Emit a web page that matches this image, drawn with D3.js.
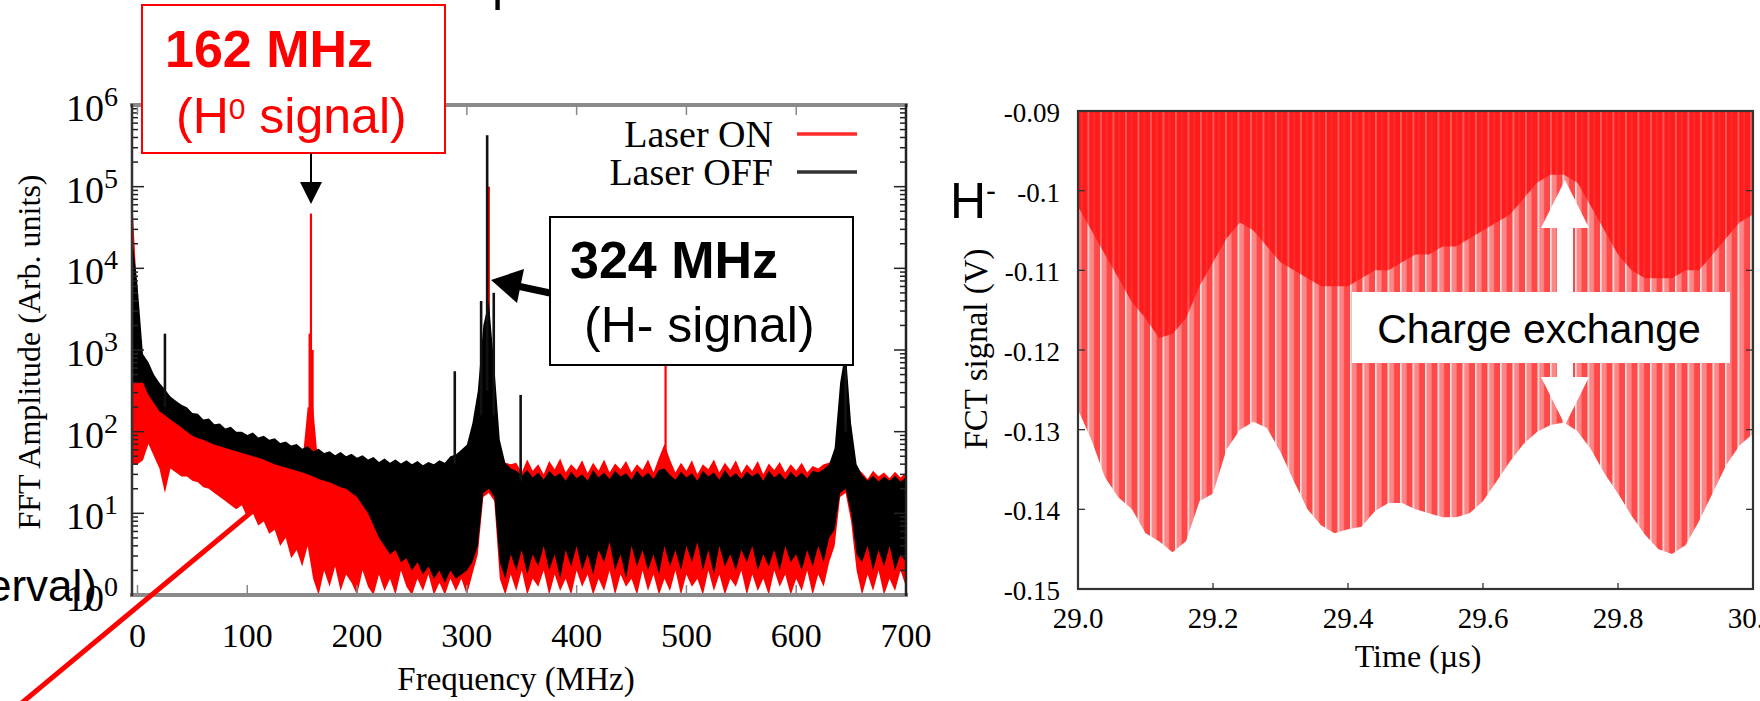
<!DOCTYPE html>
<html>
<head>
<meta charset="utf-8">
<script src="https://cdn.jsdelivr.net/npm/d3@7"></script>
<style>
  body { margin: 0; background: #fff; }
  svg { display: block; }
  text { white-space: pre; }
</style>
</head>
<body>
<svg id="chart" width="1760" height="701"></svg>
<script>
// ---------- left panel: FFT spectrum (values are log10 of the amplitude)
var bandFreq = [-5,0,5,10,15,20,25,30,35,40,45,50,55,60,65,70,75,80,85,90,95,100,105,110,115,120,125,130,135,140,
  145,150,155,160,165,170,175,180,185,190,195,200,205,210,215,220,225,230,235,240,245,250,255,260,265,270,275,280,285,290,
  295,300,305,310,315,320,325,330,335,340,345,350,355,360,365,370,375,380,385,390,395,400,405,410,415,420,425,430,435,440,
  445,450,455,460,465,470,475,480,485,490,495,500,505,510,515,520,525,530,535,540,545,550,555,560,565,570,575,580,585,590,
  595,600,605,610,615,620,625,630,635,640,645,650,655,660,665,670,675,680,685,690,695,700];

var offHi = [4.4,3.8,2.95,2.85,2.7,2.6,2.52,2.43,2.38,2.33,
  2.3,2.23,2.22,2.15,2.16,2.09,2.1,2.04,2.06,2.0,
  2.0,1.96,1.99,1.93,1.95,1.9,1.92,1.86,1.88,1.83,
  1.85,1.79,1.82,1.76,1.79,1.74,1.76,1.71,1.75,1.7,
  1.73,1.68,1.71,1.66,1.69,1.63,1.67,1.62,1.66,1.61,
  1.65,1.6,1.64,1.59,1.63,1.6,1.65,1.62,1.7,1.72,
  1.78,1.84,2.1,2.5,3.3,3.6,2.8,1.9,1.62,1.55,
  1.52,1.46,1.53,1.44,1.5,1.41,1.52,1.45,1.49,1.4,
  1.51,1.43,1.48,1.4,1.53,1.44,1.5,1.42,1.52,1.45,
  1.49,1.41,1.52,1.44,1.5,1.42,1.53,1.55,1.47,1.41,
  1.51,1.44,1.49,1.4,1.52,1.45,1.5,1.41,1.53,1.44,
  1.49,1.42,1.51,1.45,1.5,1.4,1.52,1.44,1.49,1.41,
  1.51,1.44,1.5,1.43,1.52,1.5,1.54,1.6,1.8,2.6,
  3.0,2.1,1.6,1.47,1.4,1.46,1.39,1.45,1.4,1.46,
  1.39,1.44];

var offLo = [2.6,2.6,2.6,2.45,2.35,2.25,2.2,2.15,2.1,2.05,
  2.0,1.95,1.92,1.9,1.87,1.84,1.82,1.8,1.78,1.76,
  1.74,1.72,1.7,1.68,1.66,1.63,1.6,1.58,1.56,1.54,
  1.52,1.5,1.48,1.45,1.42,1.4,1.38,1.35,1.32,1.3,
  1.25,1.2,1.1,1.0,0.85,0.7,0.6,0.5,0.55,0.4,
  0.45,0.3,0.4,0.25,0.35,0.2,0.3,0.15,0.3,0.2,
  0.25,0.3,0.4,0.6,1.25,1.3,1.2,0.4,0.2,0.5,
  0.3,0.55,0.25,0.5,0.35,0.6,0.3,0.5,0.2,0.55,
  0.35,0.6,0.3,0.5,0.25,0.55,0.4,0.65,0.3,0.5,
  0.2,0.6,0.35,0.55,0.3,0.5,0.25,0.6,0.35,0.55,
  0.3,0.6,0.4,0.65,0.3,0.55,0.25,0.6,0.35,0.5,
  0.3,0.55,0.4,0.6,0.3,0.5,0.35,0.55,0.3,0.6,
  0.4,0.5,0.3,0.55,0.35,0.6,0.4,0.7,0.8,1.25,
  1.3,1.0,0.5,0.4,0.6,0.3,0.55,0.35,0.6,0.3,
  0.5,0.4];

var onHi = [4.9,3.6,2.75,2.6,2.5,2.4,2.3,2.25,2.2,2.15,
  2.1,2.05,2.0,1.97,1.94,1.91,1.88,1.85,1.82,1.8,
  1.77,1.75,1.73,1.7,1.68,1.66,1.64,1.62,1.6,1.58,
  1.56,1.6,2.3,2.3,1.55,1.52,1.5,1.5,1.48,1.48,
  1.47,1.47,1.46,1.46,1.45,1.45,1.45,1.46,1.46,1.47,
  1.47,1.48,1.5,1.5,1.52,1.55,1.55,1.58,1.6,1.62,
  1.65,1.7,1.9,2.3,2.9,3.3,2.5,1.75,1.62,1.6,
  1.62,1.5,1.66,1.52,1.6,1.48,1.64,1.54,1.67,1.5,
  1.6,1.53,1.65,1.49,1.62,1.52,1.66,1.5,1.61,1.54,
  1.64,1.5,1.6,1.53,1.66,1.5,1.68,1.85,1.66,1.5,
  1.62,1.52,1.65,1.48,1.6,1.54,1.66,1.5,1.62,1.53,
  1.65,1.49,1.6,1.52,1.64,1.48,1.61,1.53,1.63,1.5,
  1.6,1.52,1.62,1.5,1.58,1.55,1.6,1.62,1.7,2.4,
  2.9,2.0,1.55,1.5,1.42,1.52,1.45,1.5,1.43,1.51,
  1.44,1.5];

var onLo = [1.6,1.6,1.65,1.85,1.7,1.55,1.25,1.55,1.5,1.45,
  1.45,1.4,1.38,1.32,1.3,1.25,1.2,1.15,1.1,1.05,
  1.1,0.95,1.0,0.85,0.9,0.75,0.8,0.6,0.7,0.45,
  0.55,0.35,0.6,0.2,0,0.3,0.1,0.35,0.05,0.25,
  0.15,0,0.3,0.1,0,0.25,0.05,0.2,0,0.3,
  0.1,0,0.2,0.05,0.25,0,0.15,0,0.2,0.05,
  0.2,0,0.25,0.5,1.2,1.25,1.15,0.2,0,0.25,
  0.05,0.3,0,0.2,0.1,0.3,0,0.25,0.05,0.2,
  0,0.3,0.1,0.25,0,0.2,0.05,0.3,0,0.25,
  0.1,0.2,0,0.3,0.05,0.25,0,0.2,0.05,0.3,
  0,0.25,0.1,0.2,0,0.3,0.05,0.25,0,0.2,
  0.1,0.3,0,0.25,0.05,0.2,0,0.3,0.1,0.25,
  0,0.2,0.05,0.3,0,0.25,0.1,0.4,0.6,1.2,
  1.25,0.9,0.3,0,0.25,0.05,0.3,0,0.2,0.05,
  0.3,0.1];

// narrow lines: [frequency MHz, log10 of the foot, log10 of the top]
var onSpikes = [[158,1.8,4.67],[156.8,1.8,3.2],[159.5,1.8,3.0],[320,2.0,5.0],[481,1.6,3.5],[645,2.0,3.2]];
var offSpikes = [[25,2.3,3.2],[289,1.6,2.74],[313,2.2,3.6],[318.5,2.5,5.63],[324.5,2.2,3.7],[349,1.4,2.45],[645,2.0,3.3]];

var freqTicks = [0,100,200,300,400,500,600,700];
var decadeTicks = [0,1,2,3,4,5,6];
var seriesNames = ["Laser ON", "Laser OFF"];

// ---------- right panel: FCT signal
var fctTime = [29.00,29.02,29.04,29.06,29.08,29.10,29.12,29.14,29.16,29.18,
  29.20,29.22,29.24,29.26,29.28,29.30,29.32,29.34,29.36,29.38,
  29.40,29.42,29.44,29.46,29.48,29.50,29.52,29.54,29.56,29.58,
  29.60,29.62,29.64,29.66,29.68,29.70,29.72,29.74,29.76,29.78,
  29.80,29.82,29.84,29.86,29.88,29.90,29.92,29.94,29.96,29.98,30.00];
// deepest excursion of the bunches (V)
var fctLower = [-0.1275,-0.1313,-0.1360,-0.1385,-0.1400,-0.1430,-0.1440,-0.1454,-0.1440,-0.1390,
  -0.1380,-0.1325,-0.1300,-0.1290,-0.1298,-0.1328,-0.1365,-0.1400,-0.1420,-0.1430,
  -0.1425,-0.1422,-0.1402,-0.1392,-0.1392,-0.1400,-0.1405,-0.1410,-0.1410,-0.1405,
  -0.1390,-0.1365,-0.1340,-0.1318,-0.1303,-0.1294,-0.1291,-0.1302,-0.1325,-0.1355,
  -0.1380,-0.1408,-0.1432,-0.1450,-0.1456,-0.1445,-0.1415,-0.1380,-0.1345,-0.1320,-0.1305];
// bottom of the dense (dark red) part
var fctInner = [-0.102,-0.105,-0.108,-0.111,-0.114,-0.116,-0.1185,-0.118,-0.116,-0.112,
  -0.109,-0.106,-0.104,-0.105,-0.107,-0.109,-0.110,-0.111,-0.112,-0.112,
  -0.112,-0.111,-0.110,-0.110,-0.109,-0.108,-0.108,-0.107,-0.107,-0.106,
  -0.105,-0.104,-0.103,-0.101,-0.099,-0.098,-0.098,-0.099,-0.102,-0.105,
  -0.108,-0.110,-0.111,-0.111,-0.111,-0.110,-0.110,-0.108,-0.106,-0.104,-0.103];

var timeTicks = [29.0,29.2,29.4,29.6,29.8,30.0];
var voltTicks = [-0.09,-0.10,-0.11,-0.12,-0.13,-0.14,-0.15];

var serif = "'Liberation Serif','Times New Roman',serif";
var sans = "'Liberation Sans',Arial,sans-serif";

var svg = d3.select("#chart");
var defs = svg.append("defs");

//---------------------------------------------------------------- left chart
var x = d3.scaleLinear().domain([-5, 700]).range([132, 906]);
var y = d3.scaleLog().domain([1, 1e6]).range([595, 105]);
var yl = function(v) { return y(Math.pow(10, v)); };

defs.append("clipPath").attr("id", "clipL").append("rect")
  .attr("x", 132).attr("y", 105).attr("width", 774).attr("height", 490);

var rows = bandFreq.map(function(f, i) {
  return { f: f, onLo: onLo[i], onHi: onHi[i], offLo: offLo[i], offHi: offHi[i] };
});

var band = function(lo, hi) {
  return d3.area()
    .x(function(d) { return x(d.f); })
    .y0(function(d) { return yl(d[lo]); })
    .y1(function(d) { return yl(d[hi]); });
};

var spikes = function(g, data, color, w) {
  g.selectAll(null).data(data).enter().append("line")
    .attr("x1", function(d) { return x(d[0]); }).attr("x2", function(d) { return x(d[0]); })
    .attr("y1", function(d) { return yl(d[1]); }).attr("y2", function(d) { return yl(d[2]); })
    .attr("stroke", color).attr("stroke-width", w);
};

var plotL = svg.append("g").attr("clip-path", "url(#clipL)");
plotL.append("path").datum(rows).attr("d", band("onLo", "onHi")).attr("fill", "#ff0000");
spikes(plotL, onSpikes, "#ff0000", 2.2);
plotL.append("path").datum(rows).attr("d", band("offLo", "offHi")).attr("fill", "#000");
spikes(plotL, offSpikes, "#111", 2.6);

// ticks (inward, on all four sides)
var logTicks = y.ticks();
var isDecade = function(v) { return Math.abs(Math.log10(v) - Math.round(Math.log10(v))) < 1e-6; };
var gAx = svg.append("g").attr("stroke", "#222").attr("stroke-width", 1.5);
gAx.selectAll(".ytl").data(logTicks).enter().append("line")
  .attr("x1", 132).attr("x2", function(d) { return 132 + (isDecade(d) ? 12 : 6); })
  .attr("y1", function(d) { return y(d); }).attr("y2", function(d) { return y(d); });
gAx.selectAll(".ytr").data(logTicks).enter().append("line")
  .attr("x1", 906).attr("x2", function(d) { return 906 - (isDecade(d) ? 12 : 6); })
  .attr("y1", function(d) { return y(d); }).attr("y2", function(d) { return y(d); });
gAx.selectAll(".xtb").data(freqTicks).enter().append("line")
  .attr("x1", function(d) { return x(d); }).attr("x2", function(d) { return x(d); })
  .attr("y1", 595).attr("y2", 585).attr("stroke", "#888");
gAx.selectAll(".xtt").data(freqTicks).enter().append("line")
  .attr("x1", function(d) { return x(d); }).attr("x2", function(d) { return x(d); })
  .attr("y1", 105).attr("y2", 115).attr("stroke", "#888");

// frame: grey top/bottom, dark sides
svg.append("line").attr("x1", 130).attr("x2", 908).attr("y1", 105).attr("y2", 105)
  .attr("stroke", "#8a8a8a").attr("stroke-width", 4);
svg.append("line").attr("x1", 130).attr("x2", 908).attr("y1", 595).attr("y2", 595)
  .attr("stroke", "#8a8a8a").attr("stroke-width", 4);
svg.append("line").attr("x1", 132).attr("x2", 132).attr("y1", 104).attr("y2", 596)
  .attr("stroke", "#333").attr("stroke-width", 2.5);
svg.append("line").attr("x1", 906).attr("x2", 906).attr("y1", 104).attr("y2", 596)
  .attr("stroke", "#222").attr("stroke-width", 2.5);

// tick labels
svg.selectAll(".xlab").data(freqTicks).enter().append("text")
  .attr("x", function(d) { return x(d); }).attr("y", 647)
  .attr("text-anchor", "middle").attr("font-family", serif).attr("font-size", 34)
  .text(function(d) { return d; });

var ylab = svg.selectAll(".ylab").data(decadeTicks).enter().append("text")
  .attr("x", 118).attr("y", function(d) { return yl(d) + 16; })
  .attr("text-anchor", "end").attr("font-family", serif).attr("font-size", 38);
ylab.append("tspan").text("10");
ylab.append("tspan").attr("dy", -15).attr("font-size", 28).text(function(d) { return d; });

svg.append("text").attr("x", 516).attr("y", 690).attr("text-anchor", "middle")
  .attr("font-family", serif).attr("font-size", 33).text("Frequency (MHz)");
svg.append("text").attr("transform", "translate(40,352) rotate(-90)").attr("text-anchor", "middle")
  .attr("font-family", serif).attr("font-size", 32).text("FFT Amplitude (Arb. units)");

// legend
var legColors = ["#ff2a2a", "#333"];
seriesNames.forEach(function(name, i) {
  var ly = 134 + i * 38;
  svg.append("text").attr("x", 773).attr("y", ly + 13).attr("text-anchor", "end")
    .attr("font-family", serif).attr("font-size", 38).text(name);
  svg.append("line").attr("x1", 797).attr("x2", 857).attr("y1", ly).attr("y2", ly)
    .attr("stroke", legColors[i]).attr("stroke-width", 3.5);
});

//---------------------------------------------------------------- right chart
var tx = d3.scaleLinear().domain([29, 30]).range([1078, 1753]);
var vy = d3.scaleLinear().domain([-0.15, -0.09]).range([589, 111]);

var pOut = defs.append("pattern").attr("id", "pinkLines").attr("patternUnits", "userSpaceOnUse")
  .attr("width", 12.5).attr("height", 10);
pOut.append("rect").attr("width", 12.5).attr("height", 10).attr("fill", "#e6e6e6");
pOut.append("rect").attr("x", 1.6).attr("width", 4.6).attr("height", 10).attr("fill", "#ff8686");
pOut.append("rect").attr("x", 6.2).attr("width", 6.3).attr("height", 10).attr("fill", "#ff4848");

var pIn = defs.append("pattern").attr("id", "redLines").attr("patternUnits", "userSpaceOnUse")
  .attr("width", 12.5).attr("height", 10);
pIn.append("rect").attr("width", 12.5).attr("height", 10).attr("fill", "#ff1c1c");
pIn.append("rect").attr("x", 0).attr("width", 1.8).attr("height", 10).attr("fill", "#ff5a5a");
pIn.append("rect").attr("x", 6.2).attr("width", 1).attr("height", 10).attr("fill", "#ff3a3a");

defs.append("clipPath").attr("id", "clipR").append("rect")
  .attr("x", 1078).attr("y", 111).attr("width", 675).attr("height", 478);

var fctRows = fctTime.map(function(t, i) { return { t: t, lower: fctLower[i], inner: fctInner[i] }; });

var plotR = svg.append("g").attr("clip-path", "url(#clipR)");
plotR.append("path").datum(fctRows)
  .attr("d", d3.area().x(function(d) { return tx(d.t); }).y0(vy(-0.09)).y1(function(d) { return vy(d.lower); }))
  .attr("fill", "url(#pinkLines)");
plotR.append("path").datum(fctRows)
  .attr("d", d3.area().x(function(d) { return tx(d.t); }).y0(vy(-0.09)).y1(function(d) { return vy(d.inner); }))
  .attr("fill", "url(#redLines)");

var gR = svg.append("g").attr("stroke", "#333").attr("stroke-width", 1.3);
gR.selectAll(".vtl").data(voltTicks).enter().append("line")
  .attr("x1", 1078).attr("x2", 1085).attr("y1", function(d) { return vy(d); }).attr("y2", function(d) { return vy(d); });
gR.selectAll(".vtr").data(voltTicks).enter().append("line")
  .attr("x1", 1753).attr("x2", 1746).attr("y1", function(d) { return vy(d); }).attr("y2", function(d) { return vy(d); });
gR.selectAll(".ttb").data(timeTicks).enter().append("line")
  .attr("x1", function(d) { return tx(d); }).attr("x2", function(d) { return tx(d); })
  .attr("y1", 589).attr("y2", 583);

svg.append("rect").attr("x", 1078).attr("y", 111).attr("width", 675).attr("height", 478)
  .attr("fill", "none").attr("stroke", "#333").attr("stroke-width", 2.2);

svg.selectAll(".vlab").data(voltTicks).enter().append("text")
  .attr("x", 1060).attr("y", function(d) { return vy(d) + 11; })
  .attr("text-anchor", "end").attr("font-family", serif).attr("font-size", 27)
  .text(function(d) { return String(+d.toFixed(2)); });
svg.selectAll(".tlab").data(timeTicks).enter().append("text")
  .attr("x", function(d) { return tx(d); }).attr("y", 628)
  .attr("text-anchor", "middle").attr("font-family", serif).attr("font-size", 29)
  .text(function(d) { return d.toFixed(1); });

svg.append("text").attr("x", 1418).attr("y", 667).attr("text-anchor", "middle")
  .attr("font-family", serif).attr("font-size", 32).text("Time (\u00b5s)");
svg.append("text").attr("transform", "translate(987,349) rotate(-90)").attr("text-anchor", "middle")
  .attr("font-family", serif).attr("font-size", 33).text("FCT signal (V)");

// ---------------------------------------------------------------- slide annotations
svg.append("text").attr("x", 492).attr("y", 0).attr("font-family", sans).attr("font-size", 50).text("p");

// 162 MHz box
svg.append("rect").attr("x", 142).attr("y", 5).attr("width", 303).attr("height", 148)
  .attr("fill", "#fff").attr("stroke", "#ff0000").attr("stroke-width", 2);
svg.append("text").attr("x", 165).attr("y", 67).attr("font-family", sans).attr("font-size", 52)
  .attr("font-weight", "bold").attr("fill", "#ff0000").text("162 MHz");
var h0 = svg.append("text").attr("x", 176).attr("y", 133).attr("font-family", sans)
  .attr("font-size", 50).attr("fill", "#ff0000");
h0.append("tspan").text("(H");
h0.append("tspan").attr("dy", -14).attr("font-size", 30).text("0");
h0.append("tspan").attr("dy", 14).text(" signal)");

svg.append("line").attr("x1", 311).attr("x2", 311).attr("y1", 153).attr("y2", 186)
  .attr("stroke", "#000").attr("stroke-width", 2);
svg.append("path").attr("d", "M300,182 L322,182 L311,204 Z").attr("fill", "#000");

// 324 MHz box
svg.append("rect").attr("x", 550).attr("y", 217).attr("width", 303).attr("height", 148)
  .attr("fill", "#fff").attr("stroke", "#000").attr("stroke-width", 2);
svg.append("text").attr("x", 570).attr("y", 278).attr("font-family", sans).attr("font-size", 52)
  .attr("font-weight", "bold").text("324 MHz");
svg.append("text").attr("x", 584).attr("y", 342).attr("font-family", sans).attr("font-size", 50)
  .text("(H- signal)");

svg.append("line").attr("x1", 550).attr("y1", 293).attr("x2", 515).attr("y2", 285.5)
  .attr("stroke", "#000").attr("stroke-width", 7);
svg.append("path").attr("d", "M491,280 L524,269 L517,303 Z").attr("fill", "#000");

// H- label next to the right chart
var hm = svg.append("text").attr("x", 950).attr("y", 218).attr("font-family", sans).attr("font-size", 50);
hm.append("tspan").text("H");
hm.append("tspan").attr("dy", -17).attr("font-size", 30).text("-");

// Charge exchange box with double arrow
svg.append("path").attr("d", "M1565,180 L1589,228 L1541,228 Z").attr("fill", "#fff");
svg.append("rect").attr("x", 1557).attr("y", 226).attr("width", 16).attr("height", 68).attr("fill", "#fff");
svg.append("rect").attr("x", 1557).attr("y", 362).attr("width", 16).attr("height", 17).attr("fill", "#fff");
svg.append("path").attr("d", "M1541,377 L1589,377 L1565,425 Z").attr("fill", "#fff");
svg.append("rect").attr("x", 1352).attr("y", 292).attr("width", 378).attr("height", 71).attr("fill", "#fff");
svg.append("text").attr("x", 1539).attr("y", 343).attr("text-anchor", "middle")
  .attr("font-family", sans).attr("font-size", 41).text("Charge exchange");

// cut-off slide text and red pointer line at the lower left
svg.append("text").attr("x", 97).attr("y", 601).attr("text-anchor", "end")
  .attr("font-family", sans).attr("font-size", 44).text("interval)");
svg.append("line").attr("x1", 0).attr("y1", 721).attr("x2", 255).attr("y2", 509)
  .attr("stroke", "#ff0000").attr("stroke-width", 5);
</script>
</body>
</html>
